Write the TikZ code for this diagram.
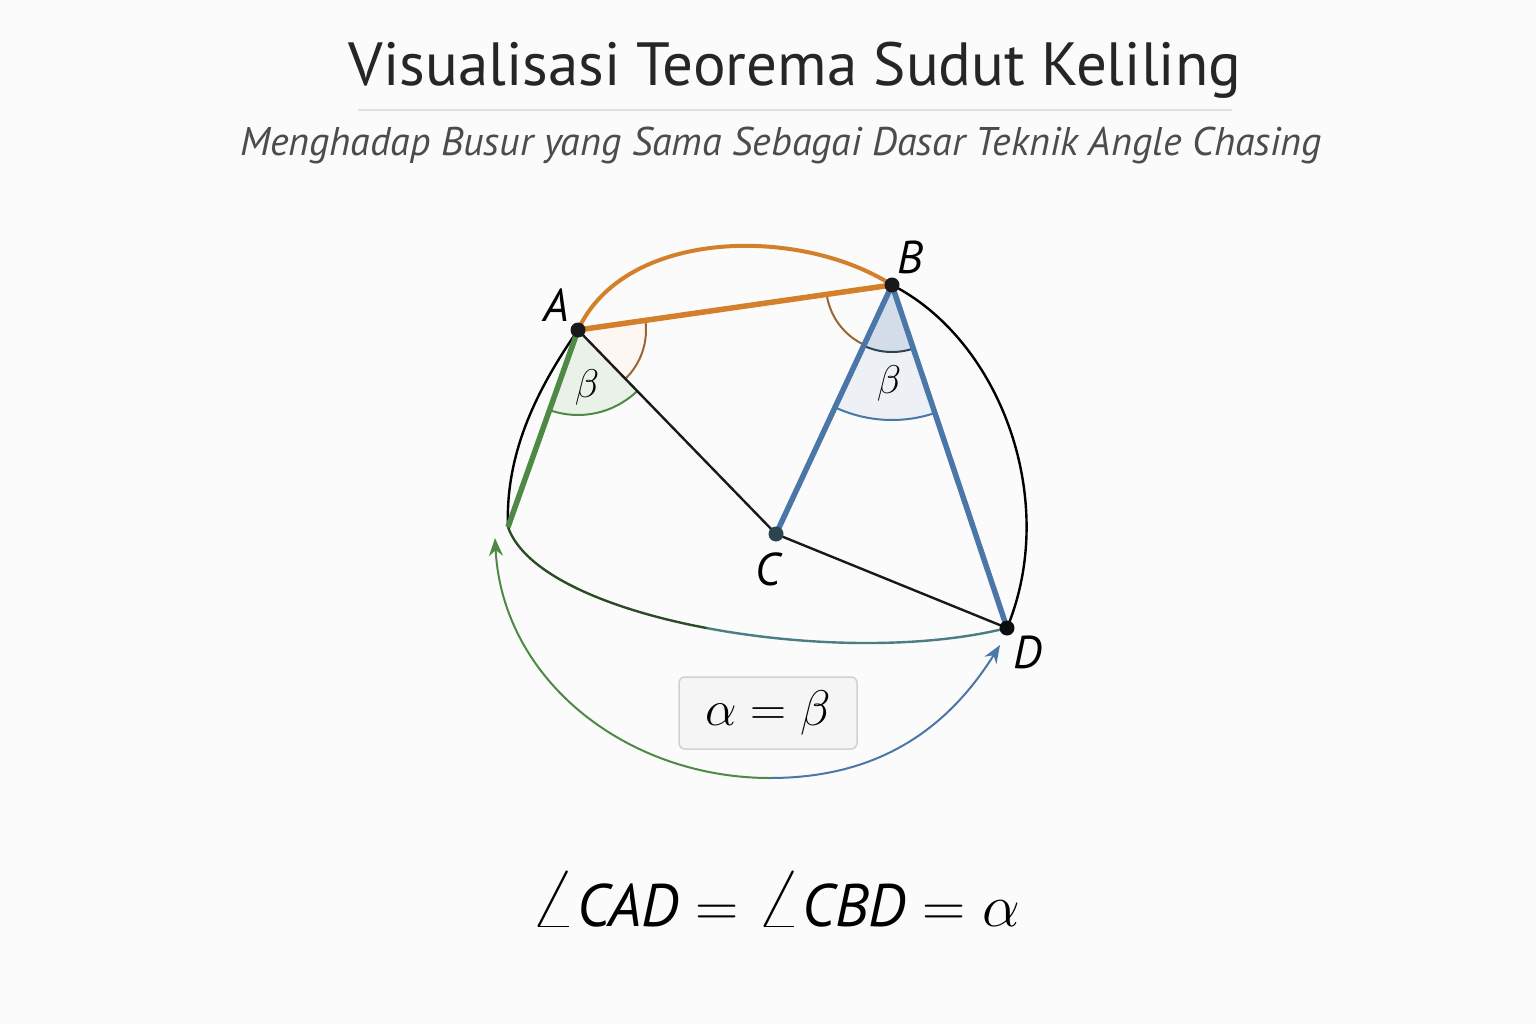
\RequirePackage{fix-cm}
\documentclass[tikz,border=0pt]{standalone}
\usepackage{fontspec}
\newfontfamily\titlefont{PT Sans}
\usetikzlibrary{angles,arrows.meta}
\definecolor{bgcol}{HTML}{FBFBFB}
\definecolor{ornge}{HTML}{D4802A}
\definecolor{grn}{HTML}{4E8A45}
\definecolor{blu}{HTML}{4A76A8}
\definecolor{slate}{HTML}{2C4450}
\newcommand{\ptl}[1]{\mbox{\titlefont\itshape #1}}
\newcommand{\bigang}{\scalebox{1.45}{$\angle$}}
\begin{document}
\begin{tikzpicture}[x=1pt,y=1pt,
	lbl/.style={font=\fontsize{46}{46}\selectfont},
	fat/.style={line width=5.5pt,#1},
	thin/.style={line width=2.4pt,black!90}]
	\useasboundingbox[fill=bgcol] (0,0) rectangle (1536,-1024);
	\node (title) at (795,-70) {\titlefont\fontsize{61}{61}\selectfont\color{black!85} Visualisasi Teorema Sudut Keliling};
	\draw[black!12,line width=2pt] (358,-110)--(1232,-110);
	\node (sub) at (781,-146) {\titlefont\itshape\fontsize{40}{40}\selectfont\color{black!70} Menghadap Busur yang Sama Sebagai Dasar Teknik Angle Chasing};
	\coordinate (A) at (578,-330);
	\coordinate (B) at (892,-285);
	\coordinate (C) at (776,-534);
	\coordinate (D) at (1007,-628);
	\coordinate (E) at (508,-527);
	% angle sectors
	\pic[draw=grn,fill=grn!12,line width=2pt,angle radius=85pt] {angle=E--A--C};
	\pic[draw=brown!80!black,fill=ornge!6,line width=2pt,angle radius=68pt] {angle=C--A--B};
	\pic[draw=blu,fill=blu!10,line width=2pt,angle radius=135pt] {angle=C--B--D};
	\pic[draw=slate,fill=blu!25,line width=2pt,angle radius=67pt] {angle=C--B--D};
	\pic[draw=brown!80!black,line width=2pt,angle radius=66pt] {angle=A--B--C};
	% arcs of the circle
	\draw[ornge,line width=4pt] (A) .. controls (625,-228) and (800,-226) .. (B);
	\draw[thin,black] (B) .. controls (1000,-340) and (1060,-500) .. (D);
	\draw[thin,black] (A) .. controls (540,-385) and (505,-450) .. (E);
	\coordinate (M) at (706.9,-628.1);
	\draw[thin,black!45!grn] (E) .. controls (524,-573.5) and (607,-609.3) .. (M);
	\draw[thin,grn!35!blu] (M) .. controls (806.8,-647) and (923.5,-649) .. (D);
	% chords
	\draw[thin] (A)--(C)--(D);
	\draw[fat=ornge] (A)--(B);
	\draw[fat=grn] (A)--(E);
	\draw[fat=blu,line join=round] (C)--(B)--(D);
	% arrows
	\coordinate (N) at (770,-778);
	\coordinate (Ea) at (495,-538);
	\coordinate (Da) at (1000,-645);
	\draw[grn,line width=2pt,-{Stealth[length=18pt,width=14pt]}] (N) to[out=180,in=-87] (Ea);
	\draw[blu,line width=2pt,-{Stealth[length=18pt,width=14pt]}] (N) to[out=0,in=-122] (Da);
	% points
	\foreach \p/\c in {A/black!90,B/black!90,C/slate,D/black!80!slate}
		\fill[\c] (\p) circle (7.5);
	\node[lbl] (Al) at (556,-305) {\ptl{A}};
	\node[lbl] (Bl) at (910,-257) {\ptl{B}};
	\node[lbl] (Cl) at (768,-569) {\ptl{C}};
	\node[lbl] (Dl) at (1028,-652) {\ptl{D}};
	\node[font=\fontsize{40}{40}\selectfont] (b1) at (587,-387) {$\beta$};
	\node[font=\fontsize{40}{40}\selectfont] (b2) at (889,-383) {$\beta$};
	\node[draw=black!18,fill=black!4,rounded corners=6pt,line width=1.5pt,minimum width=178pt,minimum height=72pt,font=\fontsize{50}{50}\selectfont] (eq) at (768,-713) {$\alpha=\beta$};
	\node[font=\fontsize{60}{60}\selectfont] (res) at (775,-900) {$\bigang\ptl{CAD}=\bigang\ptl{CBD}=\alpha$};
\end{tikzpicture}
\end{document}
